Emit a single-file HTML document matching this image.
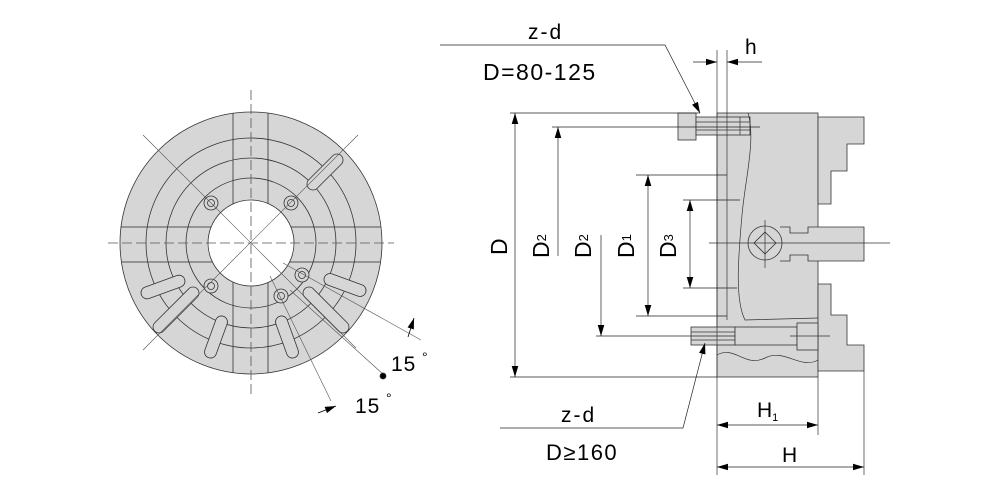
<!DOCTYPE html>
<html><head><meta charset="utf-8"><style>
html,body{margin:0;padding:0;background:#fff;}
svg{display:block;font-family:"Liberation Sans",sans-serif;}
</style></head><body>
<svg width="1000" height="500" viewBox="0 0 1000 500" xmlns="http://www.w3.org/2000/svg">
<defs>
<marker id="a" viewBox="0 0 10 10" refX="10" refY="5" markerWidth="11" markerHeight="11" orient="auto-start-reverse" markerUnits="userSpaceOnUse"><path d="M0,2 L10,5 L0,8 z" fill="#000"/></marker>
<clipPath id="c"><circle cx="251" cy="243" r="131"/></clipPath>
</defs>
<g stroke="#333" stroke-width="0.8" fill="none">
<circle cx="251" cy="243" r="131" fill="#d6d6d6"/>
<g clip-path="url(#c)">
<circle cx="251" cy="243" r="105"/>
<circle cx="251" cy="243" r="85"/>
<circle cx="251" cy="243" r="65"/>
<rect x="233" y="100" width="35" height="290"/>
<rect x="110" y="227" width="290" height="35"/>
</g>
<circle cx="251" cy="243" r="43" fill="#fff"/>
<g fill="#d6d6d6">
<circle cx="211" cy="203" r="7"/><circle cx="291" cy="203" r="7"/>
<circle cx="211" cy="286" r="7"/><circle cx="281" cy="296" r="7"/><circle cx="302" cy="275" r="7"/>
</g>
<g>
<circle cx="211" cy="203" r="3.5"/><circle cx="291" cy="203" r="3.5"/>
<circle cx="211" cy="286" r="3.5"/><circle cx="281" cy="296" r="3.5"/><circle cx="302" cy="275" r="3.5"/>
</g>
<g fill="#d6d6d6">
<rect x="-23" y="-6" width="46" height="12" rx="6" transform="translate(325,172) rotate(-45)"/>
<rect x="-23" y="-6" width="46" height="12" rx="6" transform="translate(163,287) rotate(-20)"/>
<rect x="-30" y="-6" width="60" height="12" rx="6" transform="translate(176,310) rotate(-45)"/>
<rect x="-22" y="-6" width="44" height="12" rx="6" transform="translate(216,337) rotate(-70)"/>
<rect x="-22" y="-6" width="44" height="12" rx="6" transform="translate(287,337) rotate(70)"/>
<rect x="-30" y="-6" width="60" height="12" rx="6" transform="translate(326,310) rotate(45)"/>
<rect x="-22" y="-6" width="44" height="12" rx="6" transform="translate(345,285) rotate(20)"/>
</g>
<g stroke-dasharray="10,4" stroke="#555">
<line x1="251" y1="90" x2="251" y2="398"/>
<line x1="108" y1="243" x2="394" y2="243"/>
</g>
<g stroke="#555" stroke-width="0.6">
<line x1="143" y1="135" x2="356" y2="348"/>
<line x1="358" y1="135" x2="143" y2="350"/>
<line x1="283" y1="263" x2="421" y2="340"/>
<line x1="270" y1="276" x2="331" y2="401"/>
<line x1="290" y1="290" x2="384" y2="375"/>
</g>
<line x1="408" y1="337" x2="414" y2="318" stroke="#000" marker-end="url(#a)"/>
<line x1="318" y1="413" x2="336" y2="406" stroke="#000" marker-end="url(#a)"/>
<circle cx="383" cy="376" r="3" fill="#000"/>
</g>
<text x="391" y="371" font-size="21" letter-spacing="1">15</text><text x="422" y="362" font-size="14">°</text>
<text x="355" y="413" font-size="21" letter-spacing="1">15</text><text x="386" y="403" font-size="14">°</text>

<g stroke="#333" stroke-width="0.8" fill="#d6d6d6">
<rect x="717" y="113" width="101" height="264"/>
<polygon points="818,117 864,117 864,144 847,144 847,171 831,171 831,204 818,204"/>
<polygon points="818,284 831,284 831,315 847,315 847,345 864,345 864,371 818,371"/>
<path d="M780,227 h10 v6 h18 v-6 h56 v34 h-56 v-6 h-18 v6 h-10"/>
<circle cx="765" cy="243" r="17"/>
<polygon points="765,232 776,243 765,254 754,243" fill="none"/>
<rect x="678" y="113" width="18" height="27"/>
<rect x="696" y="117" width="54" height="18"/>
<rect x="691" y="327" width="44" height="18"/>
<rect x="735" y="327" width="62" height="18"/>
<rect x="797" y="323" width="21" height="27"/>
</g>
<g stroke="#333" stroke-width="0.7" fill="none">
<line x1="696" y1="122" x2="750" y2="122"/><line x1="696" y1="130" x2="750" y2="130"/>
<line x1="740" y1="117" x2="740" y2="135"/>
<line x1="691" y1="332" x2="735" y2="332"/><line x1="691" y1="340" x2="735" y2="340"/>
<path d="M748,113 C756,140 745,180 742,215 C738,260 735,300 745,320 L818,318"/>
<path d="M717,355 C735,345 745,368 765,358 C785,348 800,370 818,360"/>
<line x1="727" y1="50" x2="727" y2="320"/>
<line x1="717" y1="50" x2="717" y2="475"/>
<line x1="818" y1="377" x2="818" y2="435"/>
<line x1="864" y1="371" x2="864" y2="475"/>
<line x1="709" y1="243" x2="890" y2="243"/>
<line x1="765" y1="220" x2="765" y2="268"/>
<line x1="790" y1="336" x2="830" y2="336"/>
</g>
<g stroke="#222" stroke-width="0.7" fill="none">
<line x1="510" y1="113" x2="700" y2="113"/>
<line x1="510" y1="377" x2="717" y2="377"/>
<line x1="552" y1="127" x2="760" y2="127"/>
<line x1="596" y1="336" x2="735" y2="336"/>
<line x1="636" y1="175" x2="727" y2="175"/>
<line x1="636" y1="316" x2="727" y2="316"/>
<line x1="683" y1="200" x2="740" y2="200"/>
<line x1="683" y1="288" x2="737" y2="288"/>
<line x1="515" y1="113" x2="515" y2="377" marker-start="url(#a)" marker-end="url(#a)"/>
<line x1="558" y1="256" x2="558" y2="127" marker-end="url(#a)"/>
<line x1="601" y1="235" x2="601" y2="336" marker-end="url(#a)"/>
<line x1="648" y1="175" x2="648" y2="316" marker-start="url(#a)" marker-end="url(#a)"/>
<line x1="690" y1="200" x2="690" y2="288" marker-start="url(#a)" marker-end="url(#a)"/>
<line x1="693" y1="62" x2="717" y2="62" marker-end="url(#a)"/>
<line x1="762" y1="62" x2="727" y2="62" marker-end="url(#a)"/>
<line x1="717" y1="425" x2="818" y2="425" marker-start="url(#a)" marker-end="url(#a)"/>
<line x1="717" y1="467" x2="864" y2="467" marker-start="url(#a)" marker-end="url(#a)"/>
<polyline points="440,45 665,45 700,113" marker-end="url(#a)"/>
<polyline points="500,428 683,428 705,343" marker-end="url(#a)"/>
</g>
<g font-size="21" fill="#000">
<text x="528" y="39" letter-spacing="2">z-d</text>
<text x="483" y="80" font-size="23" letter-spacing="1.5">D=80-125</text>
<text x="745" y="54">h</text>
<text x="561" y="422" letter-spacing="2">z-d</text>
<text x="546" y="460" font-size="22" letter-spacing="1.5">D≥160</text>
<text x="757" y="417">H<tspan font-size="11" dy="4">1</tspan></text>
<text x="782" y="462">H</text>
<g font-size="23">
<text transform="translate(507,255) rotate(-90)">D</text>
<text transform="translate(549,258) rotate(-90)">D<tspan font-size="13" dy="-3">2</tspan></text>
<text transform="translate(591,258) rotate(-90)">D<tspan font-size="13" dy="-3">2</tspan></text>
<text transform="translate(634,258) rotate(-90)">D<tspan font-size="13" dy="-3">1</tspan></text>
<text transform="translate(676,258) rotate(-90)">D<tspan font-size="13" dy="-3">3</tspan></text>
</g>
</g>
</svg>
</body></html>
